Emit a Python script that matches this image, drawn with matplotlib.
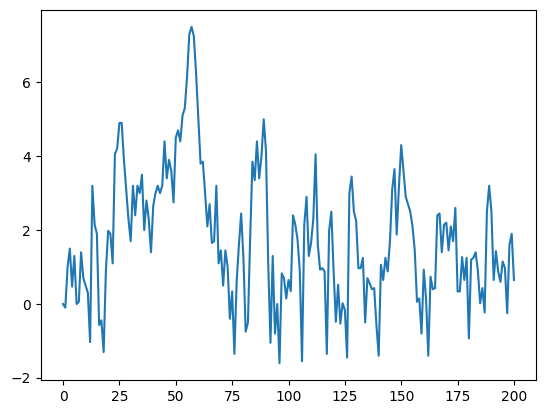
import numpy as np
from matplotlib import pyplot as plt

# values, one per step 0..200
vals_0 = [0.0, -0.1, 1.0, 1.5, 0.47, 1.3, 0.0, 0.06, 1.4, 0.7,
          0.5, 0.3, -1.03, 3.2, 2.15, 1.9, -0.57, -0.44, -1.3, 0.9,
          1.98, 1.9, 1.1, 4.06, 4.2, 4.9, 4.9, 3.9, 3.1, 2.3,
          1.7, 3.2, 2.4, 3.2, 3.0, 3.5, 2.0, 2.8, 2.3, 1.4,
          2.65, 3.0, 3.2, 3.0, 3.2, 4.4, 3.4, 3.9, 3.6, 2.75]
vals_50 = [4.5, 4.7, 4.4, 5.1, 5.3, 6.15, 7.3, 7.5, 7.25, 6.25,
           5.0, 3.8, 3.85, 3.0, 2.1, 2.7, 1.65, 1.7, 3.2, 1.1,
           1.45, 0.5, 1.45, 1.0, -0.4, 0.34, -1.35, 0.6, 1.6, 2.45,
           1.25, -0.75, -0.5, 1.8, 3.85, 3.35, 4.4, 3.4, 4.0, 5.0,
           4.15, 1.1, -1.05, 1.3, -0.8, 0.0, -1.6, 0.83, 0.7, 0.15]
vals_100 = [0.65, 0.35, 2.4, 2.15, 1.75, 0.9, -1.55, 2.15, 2.9, 1.3,
            1.65, 2.3, 4.05, 1.6, 0.93, 0.97, 0.88, -1.35, 1.97, 2.5,
            0.9, -0.48, 0.52, -0.53, 0.02, -0.16, -1.45, 3.0, 3.45, 2.5,
            2.25, 0.97, 0.97, 1.25, -0.5, 0.7, 0.56, 0.4, 0.43, -0.57,
            -1.4, 1.06, 0.65, 1.25, 0.88, 1.7, 3.1, 3.65, 1.88, 3.2]
vals_150 = [4.3, 3.6, 2.9, 2.7, 2.5, 2.1, 1.45, 0.06, 0.15, -0.8,
            0.93, 0.15, -1.4, 0.74, 0.4, 0.43, 2.4, 2.45, 1.4, 2.15,
            2.2, 1.45, 2.1, 1.7, 2.6, 0.34, 0.34, 1.27, 0.65, 1.25,
            -0.93, 1.2, 1.25, 1.4, 0.9, 0.02, 0.43, -0.23, 2.5, 3.2,
            2.5, 0.65, 1.43, 0.88, 0.6, 1.15, 0.97, -0.25, 1.6, 1.9,
            0.65]

y = np.array(vals_0 + vals_50 + vals_100 + vals_150)
x = np.arange(len(y))

fig = plt.figure(figsize=(5.46, 4.13), dpi=100)
ax = fig.add_axes([0.0742, 0.080, 0.9084, 0.8958])
ax.plot(x, y)
fig.savefig('out.png', dpi=100)
